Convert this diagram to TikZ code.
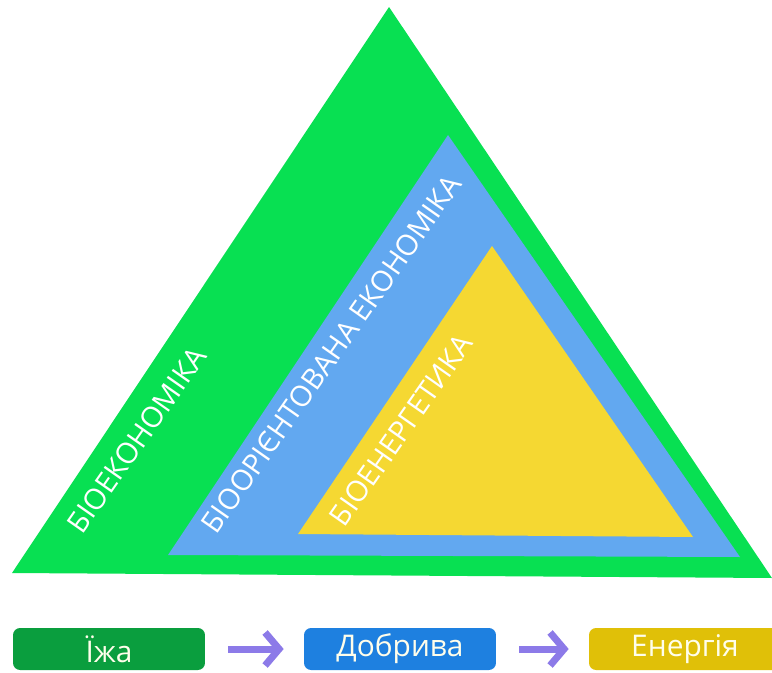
\documentclass[tikz,border=0pt]{standalone}
\usepackage{fontspec}
\setmainfont{Open Sans}
\usetikzlibrary{arrows.meta}
\usetikzlibrary{positioning}
\definecolor{outergreen}{RGB}{8,224,82}
\definecolor{midblue}{RGB}{98,168,240}
\definecolor{inneryellow}{RGB}{245,216,50}
\definecolor{boxgreen}{RGB}{10,158,62}
\definecolor{boxblue}{RGB}{30,128,224}
\definecolor{boxgold}{RGB}{224,192,8}
\definecolor{arrowviolet}{RGB}{140,122,232}
\tikzset{>=latex}

\begin{document}
\begin{tikzpicture}[x=0.02cm, y=-0.02cm,
	layer/.style={white, font=\fontsize{16.5pt}{18pt}\selectfont, rotate=55, inner sep=0pt},
	item/.style={rounded corners=4pt, minimum width=3.84cm, minimum height=0.84cm, text=white!92!yellow, font=\fontsize{17pt}{19pt}\selectfont, inner sep=0pt},
	flow/.style={arrowviolet, line width=0.14cm, -{Straight Barb[length=0.28cm, width=0.66cm]}, shorten <=0.46cm, shorten >=0.4cm}]
	\useasboundingbox (0,0) rectangle (772,673);
	% triangles
	\fill[outergreen] (389,7) -- (12,573) -- (772,578) -- cycle;
	\fill[midblue] (448,135) -- (168,555) -- (740,557) -- cycle;
	\fill[inneryellow] (492,246) -- (298,534) -- (693,537) -- cycle;
	\node[layer] (bioecon) at (137,440) {БІОЕКОНОМІКА};
	\node[layer] (biobased) at (331,354) {БІООРІЄНТОВАНА ЕКОНОМІКА};
	\node[layer] (bioenergy) at (401,430) {БІОЕНЕРГЕТИКА};
	% chain
	\node[item, fill=boxgreen] (food) at (109,649) {Їжа};
	\node[item, fill=boxblue] (fert) at (400,649) {Добрива};
	\node[item, fill=boxgold] (energy) at (685,649) {Енергія};
	\draw[flow] (food) -- (fert);
	\draw[flow] (fert) -- (energy);
\end{tikzpicture}
\end{document}
